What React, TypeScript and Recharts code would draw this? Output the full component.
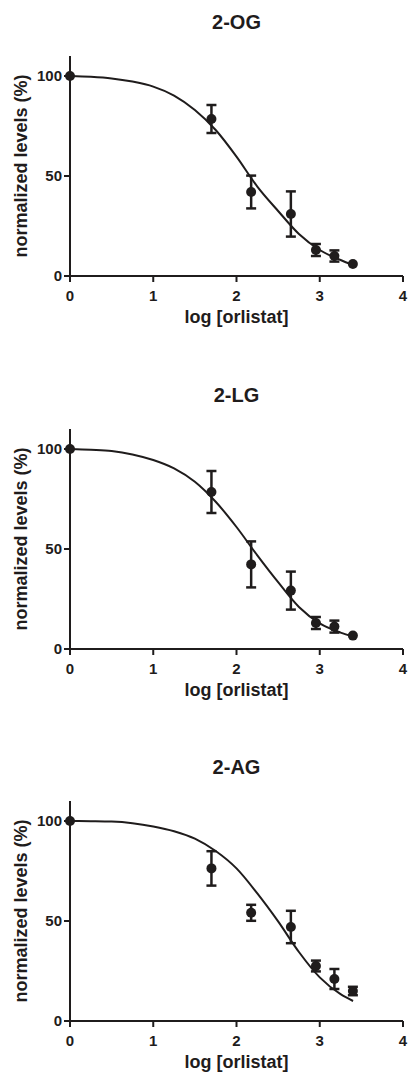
import React from 'react'
import {
  ComposedChart, Scatter, Line, XAxis, YAxis, ErrorBar, Label
} from 'recharts'

// log [orlistat] doses (0 = vehicle)
const doses = [0, 1.699, 2.176, 2.653, 2.954, 3.176, 3.398]

// mean normalized levels and SEM for each lipid
const ogMean = [100, 78.5, 42, 31, 13, 10, 6]
const ogErr = [0, 7, 8.2, 11.3, 3, 2.8, 0]
const lgMean = [100, 78.5, 42.3, 29.2, 13, 11.2, 6.7]
const lgErr = [0, 10.5, 11.5, 9.5, 3, 3, 0]
const agMean = [100, 76.3, 54.1, 47, 27.5, 21, 15]
const agErr = [0, 8.6, 4, 8.1, 2.7, 5, 2.1]

// fitted dose-response curves, sampled along log [orlistat]
const curveX = [0, 0.25, 0.5, 0.75, 1, 1.25, 1.5, 1.75, 2, 2.25, 2.5, 2.75, 3, 3.25, 3.4]
const ogCurve = [100, 99.6, 98.8, 97.2, 94.7, 90.2, 83, 73, 59.7, 44.7, 32.5, 21, 13, 8, 5.5]
const lgCurve = [100, 99.6, 99, 97.3, 94.5, 90.3, 83.6, 73.6, 61, 46.8, 33.4, 21, 12.8, 8.2, 6.2]
const agCurve = [100, 99.9, 99.7, 98.9, 97.3, 94.9, 91.2, 85, 76.3, 63.8, 49.8, 34.5, 21.8, 13.4, 10]

const xTicks = [0, 1, 2, 3, 4]
const yTicks = [0, 50, 100]

const ink = '#1f1c1c'
const font = '"Liberation Sans", Arial, sans-serif'

interface PanelProps {
  title: string
  mean: number[]
  err: number[]
  curve: number[]
  top: number
}

function Panel({ title, mean, err, curve, top }: PanelProps) {
  const points = doses.map((x, i) => ({ x, y: mean[i], err: err[i] }))
  const fit = curveX.map((x, i) => ({ x, y: curve[i] }))
  const tick = { fontSize: 15, fontWeight: 700, fill: ink, fontFamily: font }
  return (
    <div style={{ position: 'absolute', left: 0, top, width: 408, height: 372 }}>
      <div
        style={{
          position: 'absolute', top: 12, left: 70, width: 333, textAlign: 'center',
          fontFamily: font, fontWeight: 700, fontSize: 20, lineHeight: '20px', color: ink
        }}
      >
        {title}
      </div>
      <ComposedChart width={408} height={372} margin={{ top: 56, right: 5, left: 0, bottom: 66 }}>
        <XAxis
          type="number"
          dataKey="x"
          domain={[0, 4]}
          ticks={xTicks}
          tick={tick}
          tickSize={6}
          tickMargin={8}
          height={30}
          axisLine={{ stroke: ink, strokeWidth: 2 }}
          tickLine={{ stroke: ink, strokeWidth: 2 }}
        >
          <Label
            value="log [orlistat]"
            position="bottom"
            offset={4}
            style={{ fontSize: 18, fontWeight: 700, fill: ink, fontFamily: font }}
          />
        </XAxis>
        <YAxis
          type="number"
          dataKey="y"
          domain={[0, 110]}
          ticks={yTicks}
          tick={tick}
          tickSize={6}
          tickMargin={2}
          width={70}
          axisLine={{ stroke: ink, strokeWidth: 2 }}
          tickLine={{ stroke: ink, strokeWidth: 2 }}
        >
          <Label
            value="normalized levels (%)"
            angle={-90}
            position="insideLeft"
            offset={21}
            style={{ fontSize: 18, fontWeight: 700, fill: ink, fontFamily: font, textAnchor: 'middle' }}
          />
        </YAxis>
        <Line
          data={fit}
          dataKey="y"
          type="monotone"
          stroke={ink}
          strokeWidth={2}
          dot={false}
          activeDot={false}
          isAnimationActive={false}
        />
        <Scatter data={points} dataKey="y" fill={ink} isAnimationActive={false}
          shape={(p: any) => <circle cx={p.cx} cy={p.cy} r={5} fill={ink} />}
        >
          <ErrorBar dataKey="err" direction="y" width={5} stroke={ink} strokeWidth={2.5} isAnimationActive={false} />
        </Scatter>
      </ComposedChart>
    </div>
  )
}

export default function App() {
  return (
    <div style={{ position: 'absolute', left: 0, top: 0, width: 408, height: 1077, background: '#fff' }}>
      <Panel title="2-OG" mean={ogMean} err={ogErr} curve={ogCurve} top={0} />
      <Panel title="2-LG" mean={lgMean} err={lgErr} curve={lgCurve} top={373} />
      <Panel title="2-AG" mean={agMean} err={agErr} curve={agCurve} top={745} />
    </div>
  )
}
